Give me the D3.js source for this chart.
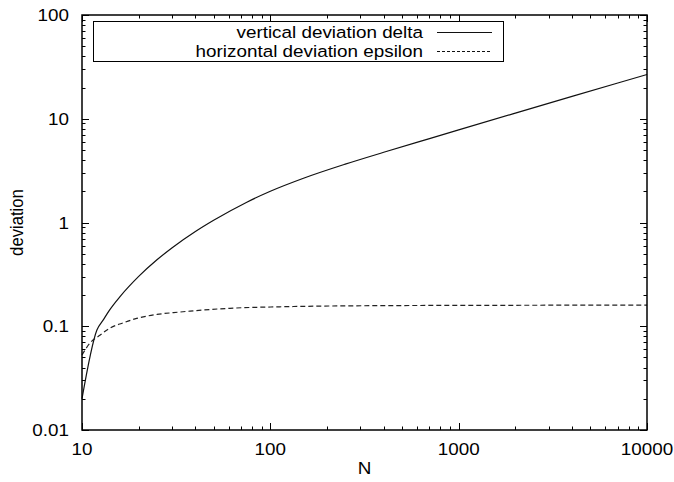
<!DOCTYPE html>
<html>
<head>
<meta charset="utf-8">
<script src="https://cdn.jsdelivr.net/npm/d3@7"></script>
<style>
  html, body { margin: 0; padding: 0; background: #fff; }
  svg text { font-family: "Liberation Sans", Arial, Helvetica, sans-serif; fill: #000; }
</style>
</head>
<body>
<svg id="chart" width="674" height="482"></svg>
<script>
// Vertical deviation delta vs. N
const deltaN = [10, 12, 13, 14, 16, 20, 25, 30, 40, 50, 75, 100, 150, 250, 400, 700, 1000, 2000, 4000, 7000, 10000];
const deltaV = [0.02, 0.092, 0.116, 0.143, 0.195, 0.302, 0.437, 0.568, 0.818, 1.05, 1.57, 2.0, 2.67, 3.65, 4.75, 6.44, 7.81, 11.33, 16.41, 22.1, 26.7];

// Horizontal deviation epsilon vs. N
const epsN = [10, 11, 12.5, 14, 16.6, 19.5, 25, 33, 37.5, 61, 112, 207, 382, 1300, 3000, 10000];
const epsV = [0.053, 0.0685, 0.0824, 0.0955, 0.108, 0.119, 0.130, 0.137, 0.140, 0.149, 0.154, 0.1567, 0.158, 0.159, 0.1595, 0.16];

const xTickValues = [10, 100, 1000, 10000];
const xTickLabels = ["10", "100", "1000", "10000"];
const yTickValues = [0.01, 0.1, 1, 10, 100];
const yTickLabels = ["0.01", "0.1", "1", "10", "100"];

const seriesNames = ["vertical deviation delta", "horizontal deviation epsilon"];
const xTitle = "N";
const yTitle = "deviation";

const svg = d3.select("#chart");
const L = 82, R = 647, T = 15, B = 430;
const FS = 16.7, SX = 1.13;   // font size, horizontal glyph stretch

const x = d3.scaleLog().domain([10, 10000]).range([L, R]);
const y = d3.scaleLog().domain([0.01, 100]).range([B, T]);

// minor ticks 2..9 inside each decade
function minors(lo, hi) {
  const out = [];
  for (let d = lo; d < hi; d *= 10)
    for (let k = 2; k <= 9; k++) out.push(d * k);
  return out;
}
const xMinor = minors(10, 10000);
const yMinor = minors(0.01, 100);

const tickG = svg.append("g").attr("stroke", "#000").attr("stroke-width", 1);
const MAJ = 7, MIN = 3.5;
// x ticks, bottom and mirrored on top, pointing inward
xTickValues.forEach(v => {
  const px = Math.round(x(v)) + 0.5;
  tickG.append("line").attr("x1", px).attr("x2", px).attr("y1", B).attr("y2", B - MAJ);
  tickG.append("line").attr("x1", px).attr("x2", px).attr("y1", T).attr("y2", T + MAJ);
});
xMinor.forEach(v => {
  const px = Math.round(x(v)) + 0.5;
  tickG.append("line").attr("x1", px).attr("x2", px).attr("y1", B).attr("y2", B - MIN);
  tickG.append("line").attr("x1", px).attr("x2", px).attr("y1", T).attr("y2", T + MIN);
});
// y ticks, left and mirrored on right
yTickValues.forEach(v => {
  const py = Math.round(y(v)) + 0.5;
  tickG.append("line").attr("y1", py).attr("y2", py).attr("x1", L).attr("x2", L + MAJ);
  tickG.append("line").attr("y1", py).attr("y2", py).attr("x1", R).attr("x2", R - MAJ);
});
yMinor.forEach(v => {
  const py = Math.round(y(v)) + 0.5;
  tickG.append("line").attr("y1", py).attr("y2", py).attr("x1", L).attr("x2", L + MIN);
  tickG.append("line").attr("y1", py).attr("y2", py).attr("x1", R).attr("x2", R - MIN);
});

// tick labels
function label(txt, px, py, anchor) {
  svg.append("text")
    .attr("transform", `translate(${px},${py}) scale(${SX},1)`)
    .attr("text-anchor", anchor)
    .attr("font-size", FS)
    .text(txt);
}
xTickValues.forEach((v, i) => label(xTickLabels[i], x(v), B + 25, "middle"));
yTickValues.forEach((v, i) => label(yTickLabels[i], L - 13, y(v) + 6, "end"));

// axis titles
label(xTitle, (L + R) / 2, 474, "middle");
svg.append("text")
  .attr("transform", `translate(23,${(T + B) / 2}) scale(${SX},1) rotate(-90)`)
  .attr("text-anchor", "middle")
  .attr("font-size", FS)
  .text(yTitle);

// curves
const line = d3.line().x(d => x(d[0])).y(d => y(d[1])).curve(d3.curveMonotoneX);
const deltaPts = deltaN.map((n, i) => [n, deltaV[i]]);
const epsPts = epsN.map((n, i) => [n, epsV[i]]);

svg.append("path").datum(deltaPts).attr("d", line)
  .attr("fill", "none").attr("stroke", "#111").attr("stroke-width", 1.2);
svg.append("path").datum(epsPts).attr("d", line)
  .attr("fill", "none").attr("stroke", "#222").attr("stroke-width", 1.2)
  .attr("stroke-dasharray", "5,3");

// plot border
svg.append("rect").attr("x", L).attr("y", T).attr("width", R - L).attr("height", B - T)
  .attr("fill", "none").attr("stroke", "#000").attr("stroke-width", 1.5);

// legend
const lg = svg.append("g");
lg.append("rect").attr("x", 93.5).attr("y", 21.5).attr("width", 410).attr("height", 40)
  .attr("fill", "#fff").attr("stroke", "#000").attr("stroke-width", 1);
const rowsY = [32, 51];
seriesNames.forEach((name, i) => {
  label(name, 423, rowsY[i] + 6, "end");
  lg.append("line").attr("x1", 437).attr("x2", 492)
    .attr("y1", rowsY[i] + 0.5).attr("y2", rowsY[i] + 0.5)
    .attr("stroke", "#111").attr("stroke-width", 1.1)
    .attr("stroke-dasharray", i === 1 ? "3,2" : null);
});
</script>
</body>
</html>
